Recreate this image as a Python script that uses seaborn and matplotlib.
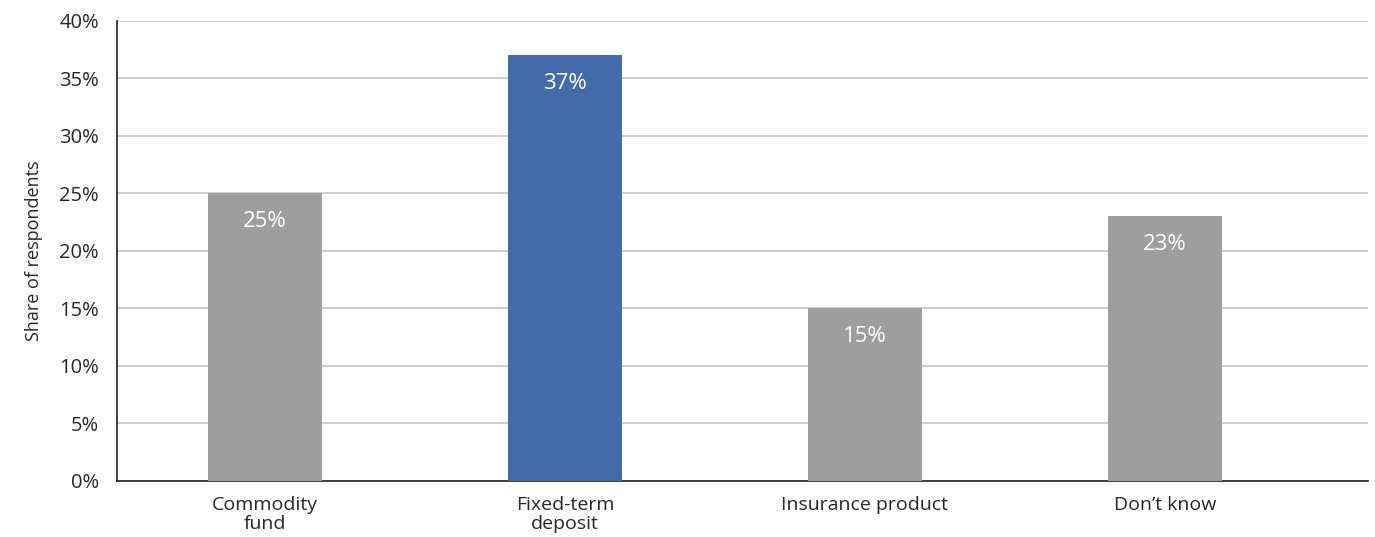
import pandas as pd
import matplotlib.pyplot as plt
import matplotlib.ticker as ticker
import seaborn as sns

# Share of respondents by chosen product
categories = ["Commodity\nfund", "Fixed-term\ndeposit", "Insurance product", "Don\u2019t know"]
shares = [25, 37, 15, 23]
bar_colors = ["#9d9e9d", "#436ba9", "#9d9e9d", "#9d9e9d"]

sns.set_style("white")
plt.rcParams["font.family"] = ["Open Sans", "DejaVu Sans"]

df = pd.DataFrame({"category": categories, "share": shares})

fig = plt.figure(figsize=(13.75, 5.37), dpi=100)
ax = fig.add_axes([0.0851, 0.1043, 0.9098, 0.8566])

sns.barplot(
    data=df, x="category", y="share", hue="category",
    palette=bar_colors, width=0.38, saturation=1, legend=False, ax=ax,
    linewidth=0, zorder=3
)

ax.set_ylim(0, 40)
ax.set_xlim(-0.493, 3.677)
ax.yaxis.set_major_locator(ticker.MultipleLocator(5))
ax.yaxis.set_major_formatter(ticker.FuncFormatter(lambda v, _: f"{int(v)}%"))
ax.grid(axis="y", color="#cccccc", linewidth=1.4, zorder=0)
ax.set_axisbelow(True)

for s in ["top", "right"]:
    ax.spines[s].set_visible(False)
for s in ["left", "bottom"]:
    ax.spines[s].set_color("#222222")
    ax.spines[s].set_linewidth(1.2)

ax.tick_params(axis="y", length=7, color="#cccccc", width=1.4, labelsize=14.5, pad=6)
ax.tick_params(axis="x", length=0, labelsize=14, pad=11)
for lbl in ax.get_xticklabels():
    lbl.set_linespacing(1.05)

ax.set_xlabel("")
ax.set_ylabel("Share of respondents", fontsize=13, labelpad=12)

# value labels inside bars
for i, v in enumerate(shares):
    ax.text(i, v - 2.4, f"{v}%", ha="center", va="center", color="white", fontsize=16)

fig.savefig("out.png", dpi=100)
